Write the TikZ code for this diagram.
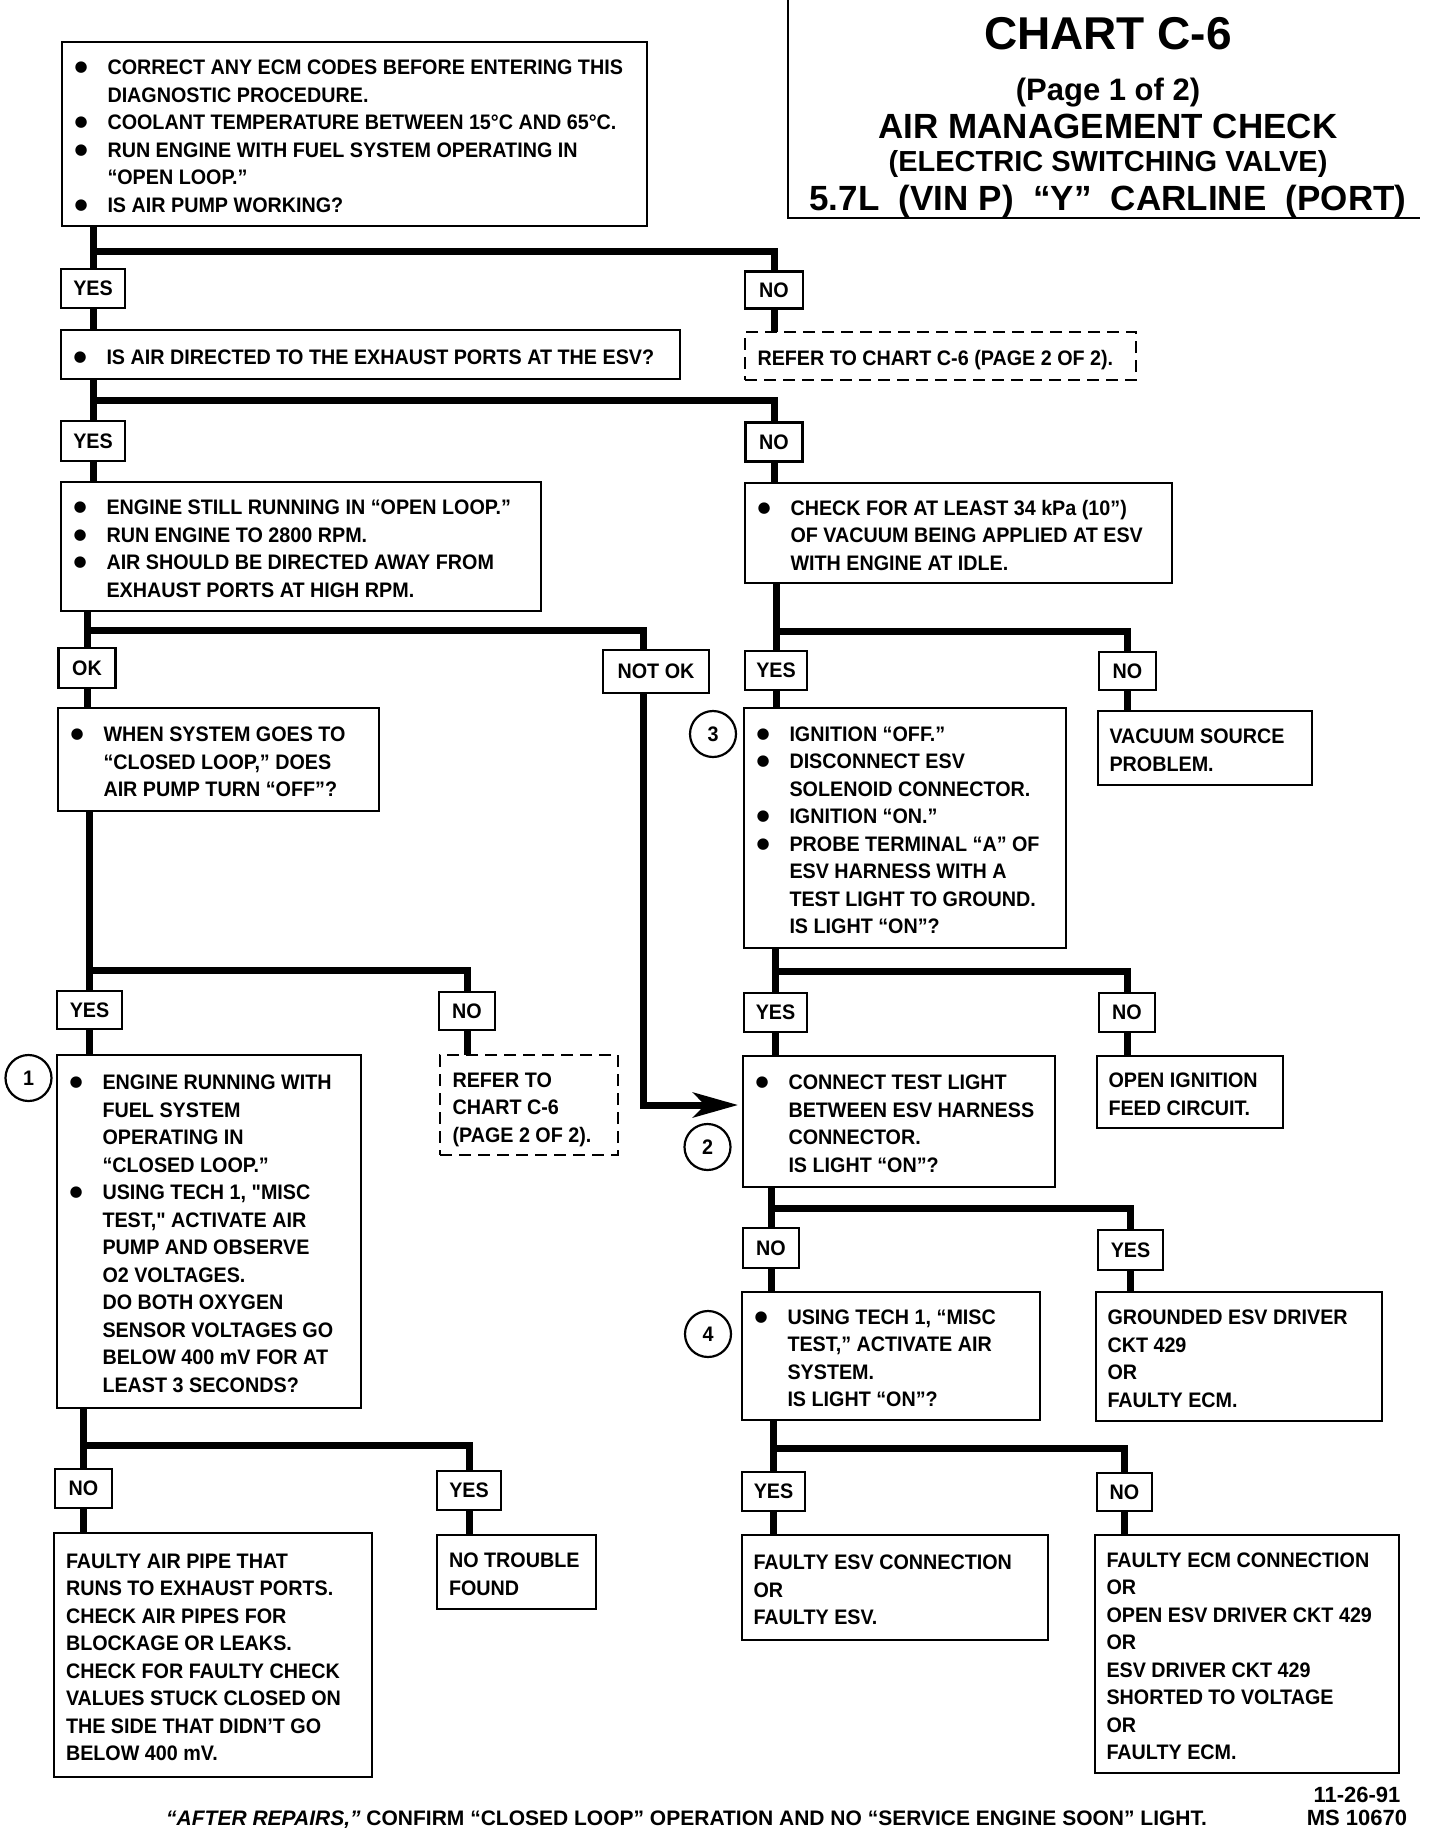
\documentclass[tikz,border=0pt]{standalone}
\usepackage{fontspec}
\usetikzlibrary{arrows.meta}
\newfontfamily\chartfont{Liberation Sans}[FakeStretch=0.94]
\newfontfamily\titlefont{Liberation Sans}
\newfontfamily\symfont{DejaVu Sans}
\newcommand\boxfont{\chartfont\bfseries\fontsize{21}{27.5}\selectfont}
\newcommand\bul{\makebox[33pt][l]{\raisebox{3pt}{\symfont\fontsize{15}{15}\selectfont ●}}}
\newcommand\ind{\hspace*{33pt}}
\newcommand\bt[3]{\raisebox{-4pt}[\height][\depth]{\makebox[#1pt][l]{\hspace*{#2pt}\begin{tabular}{@{}l@{}}#3\end{tabular}}}}
\newcommand\branch[6]{%
  \draw[conn] (#2.north |- #1.south) -- (#2.north);
  \draw[conn] (#2.north |- #4) -| (#3.north);
  \draw[conn] (#2.south) -- (#2.south |- #5.north);
  \draw[conn] (#3.south) -- (#3.south |- #6.north);}
\tikzset{
  bx/.style={draw, line width=2.6pt, anchor=north west, inner sep=0pt, outer sep=0pt, font=\boxfont},
  dbx/.style={bx, line width=2.4pt, dash pattern=on 12pt off 7pt},
  lbl/.style={draw, line width=2.5pt, inner sep=0pt, outer sep=0pt, minimum height=39pt, font=\boxfont},
  conn/.style={line width=7pt, line join=miter},
  num/.style={draw, circle, line width=2.2pt, minimum size=46pt, inner sep=0pt, font=\boxfont},
  ttl/.style={anchor=base, inner sep=0pt, font=\titlefont\bfseries}
}
\begin{document}
\begin{tikzpicture}[x=1pt,y=-1pt]
\useasboundingbox (0,0) rectangle (1440,1828);
\fill[white] (0,0) rectangle (1440,1828);

% title
\draw[line width=2.6pt] (788,0) -- (788,218) -- (1420,218);
\node[ttl, font=\titlefont\bfseries\fontsize{46}{50}\selectfont] (t1) at (1108,50) {CHART C-6};
\node[ttl, font=\titlefont\bfseries\fontsize{31}{34}\selectfont] (t2) at (1108,100) {(Page 1 of 2)};
\node[ttl, font=\titlefont\bfseries\fontsize{35}{38}\selectfont] (t3) at (1108,138) {AIR MANAGEMENT CHECK};
\node[ttl, font=\titlefont\bfseries\fontsize{29}{32}\selectfont] (t4) at (1108,171) {(ELECTRIC SWITCHING VALVE)};
\node[ttl, font=\titlefont\bfseries\fontsize{35}{38}\selectfont] (t5) at (1108,210) {5.7L\ \ (VIN P)\ \ “Y”\ \ CARLINE\ \ (PORT)};

% left column boxes
\node[bx, minimum height=184pt] (b1) at (62,42) {\bt{585}{12.5}{%
\bul CORRECT ANY ECM CODES BEFORE ENTERING THIS\\
\ind DIAGNOSTIC PROCEDURE.\\
\bul COOLANT TEMPERATURE BETWEEN 15°C AND 65°C.\\
\bul RUN ENGINE WITH FUEL SYSTEM OPERATING IN\\
\ind “OPEN LOOP.”\\
\bul IS AIR PUMP WORKING?}};

\node[bx, minimum height=49pt] (b2) at (61,330) {\bt{619}{12.5}{%
\bul IS AIR DIRECTED TO THE EXHAUST PORTS AT THE ESV?}};

\node[dbx, minimum height=48pt] (d1) at (745,332) {\bt{391}{12.5}{%
REFER TO CHART C-6 (PAGE 2 OF 2).}};

\node[bx, minimum height=129pt] (b3) at (61,482) {\bt{480}{12.5}{%
\bul ENGINE STILL RUNNING IN “OPEN LOOP.”\\
\bul RUN ENGINE TO 2800 RPM.\\
\bul AIR SHOULD BE DIRECTED AWAY FROM\\
\ind EXHAUST PORTS AT HIGH RPM.}};

\node[bx, minimum height=103pt] (b4) at (58,708) {\bt{321}{12.5}{%
\bul WHEN SYSTEM GOES TO\\
\ind “CLOSED LOOP,” DOES\\
\ind AIR PUMP TURN “OFF”?}};

\node[bx, minimum height=353pt] (b5) at (57,1055) {\bt{304}{12.5}{%
\bul ENGINE RUNNING WITH\\
\ind FUEL SYSTEM\\
\ind OPERATING IN\\
\ind “CLOSED LOOP.”\\
\bul USING TECH 1, "MISC\\
\ind TEST," ACTIVATE AIR\\
\ind PUMP AND OBSERVE\\
\ind O2 VOLTAGES.\\
\ind DO BOTH OXYGEN\\
\ind SENSOR VOLTAGES GO\\
\ind BELOW 400 mV FOR AT\\
\ind LEAST 3 SECONDS?}};

\node[dbx, minimum height=100pt] (d2) at (440,1055) {\bt{178}{12.5}{%
REFER TO\\
CHART C-6\\
(PAGE 2 OF 2).}};

\node[bx, minimum height=244pt] (b6) at (54,1533) {\bt{318}{12}{%
FAULTY AIR PIPE THAT\\
RUNS TO EXHAUST PORTS.\\
CHECK AIR PIPES FOR\\
BLOCKAGE OR LEAKS.\\
CHECK FOR FAULTY CHECK\\
VALUES STUCK CLOSED ON\\
THE SIDE THAT DIDN’T GO\\
BELOW 400 mV.}};

\node[bx, minimum height=74pt] (b7) at (437,1535) {\bt{159}{12}{%
NO TROUBLE\\
FOUND}};

% right column boxes
\node[bx, minimum height=100pt] (r1) at (745,483) {\bt{427}{12.5}{%
\bul CHECK FOR AT LEAST 34 kPa (10”)\\
\ind OF VACUUM BEING APPLIED AT ESV\\
\ind WITH ENGINE AT IDLE.}};

\node[bx, minimum height=74pt] (vac) at (1098,711) {\bt{214}{11.5}{%
VACUUM SOURCE\\
PROBLEM.}};

\node[bx, minimum height=240pt] (r2) at (744,708) {\bt{322}{12.5}{%
\bul IGNITION “OFF.”\\
\bul DISCONNECT ESV\\
\ind SOLENOID CONNECTOR.\\
\bul IGNITION “ON.”\\
\bul PROBE TERMINAL “A” OF\\
\ind ESV HARNESS WITH A\\
\ind TEST LIGHT TO GROUND.\\
\ind IS LIGHT “ON”?}};

\node[bx, minimum height=72pt] (ign) at (1097,1056) {\bt{186}{11.5}{%
OPEN IGNITION\\
FEED CIRCUIT.}};

\node[bx, minimum height=131pt] (r3) at (743,1056) {\bt{312}{12.5}{%
\bul CONNECT TEST LIGHT\\
\ind BETWEEN ESV HARNESS\\
\ind CONNECTOR.\\
\ind IS LIGHT “ON”?}};

\node[bx, minimum height=129pt] (gnd) at (1096,1292) {\bt{286}{11.5}{%
GROUNDED ESV DRIVER\\
CKT 429\\
OR\\
FAULTY ECM.}};

\node[bx, minimum height=128pt] (r4) at (742,1292) {\bt{298}{12.5}{%
\bul USING TECH 1, “MISC\\
\ind TEST,” ACTIVATE AIR\\
\ind SYSTEM.\\
\ind IS LIGHT “ON”?}};

\node[bx, minimum height=105pt] (fesv) at (742,1535) {\bt{306}{11.5}{%
FAULTY ESV CONNECTION\\
OR\\
FAULTY ESV.}};

\node[bx, minimum height=238pt] (fecm) at (1095,1535) {\bt{304}{11.5}{%
FAULTY ECM CONNECTION\\
OR\\
OPEN ESV DRIVER CKT 429\\
OR\\
ESV DRIVER CKT 429\\
SHORTED TO VOLTAGE\\
OR\\
FAULTY ECM.}};

% labels
\node[lbl, minimum width=64pt] (yes1) at (93,288.5) {YES};
\node[lbl, minimum width=58pt, minimum height=37pt] (no1) at (774,290) {NO};
\node[lbl, minimum width=64pt, minimum height=40pt] (yes2) at (93,441) {YES};
\node[lbl, minimum width=57pt] (no2) at (774,442) {NO};
\node[lbl, minimum width=57pt, minimum height=40pt] (ok) at (87,668) {OK};
\node[lbl, minimum width=106pt, minimum height=43pt] (notok) at (656,671.5) {NOT OK};
\node[lbl, minimum width=62pt] (yesR1) at (776,670.5) {YES};
\node[lbl, minimum width=57pt, minimum height=38pt] (noR1) at (1127.5,671) {NO};
\node[lbl, minimum width=65pt, minimum height=38pt] (yes3) at (89.5,1010) {YES};
\node[lbl, minimum width=56pt, minimum height=38pt] (no3) at (467,1011) {NO};
\node[lbl, minimum width=63pt] (yesR2) at (775.5,1012.5) {YES};
\node[lbl, minimum width=56pt] (noR2) at (1127,1012.5) {NO};
\node[lbl, minimum width=56pt, minimum height=40pt] (noR3) at (771,1248) {NO};
\node[lbl, minimum width=65pt, minimum height=40pt] (yesR3) at (1130.5,1250) {YES};
\node[lbl, minimum width=57pt] (no4) at (83.5,1488.5) {NO};
\node[lbl, minimum width=64pt] (yes4) at (469,1490.5) {YES};
\node[lbl, minimum width=63pt] (yesR4) at (773.5,1491.5) {YES};
\node[lbl, minimum width=55pt, minimum height=38pt] (noR4) at (1124.5,1492) {NO};

% step numbers
\node[num] (n1) at (28.5,1078) {1};
\node[num] (n2) at (707.5,1147) {2};
\node[num] (n3) at (713,734) {3};
\node[num] (n4) at (708,1334) {4};

% junction heights
\coordinate (j1) at (0,251);
\coordinate (j2) at (0,400.5);
\coordinate (j3) at (0,630);
\coordinate (j4) at (0,970);
\coordinate (j5) at (0,1445);
\coordinate (jR1) at (0,631.5);
\coordinate (jR2) at (0,971.5);
\coordinate (jR3) at (0,1208.5);
\coordinate (jR4) at (0,1448.5);
\coordinate (kx) at (643,0);
\coordinate (ka) at (0,1105);

% connectors
\branch{b1}{yes1}{no1}{j1}{b2}{d1}
\branch{b2}{yes2}{no2}{j2}{b3}{r1}
\branch{b4}{yes3}{no3}{j4}{b5}{d2}
\branch{b5}{no4}{yes4}{j5}{b6}{b7}
\branch{r1}{yesR1}{noR1}{jR1}{r2}{vac}
\branch{r2}{yesR2}{noR2}{jR2}{r3}{ign}
\branch{r3}{noR3}{yesR3}{jR3}{r4}{gnd}
\branch{r4}{yesR4}{noR4}{jR4}{fesv}{fecm}

\draw[conn] (ok.north |- b3.south) -- (ok.north);
\draw[conn] (ok.north |- j3) -- (kx |- j3) -- (kx |- notok.north);
\draw[conn] (ok.south) -- (ok.south |- b4.north);
\draw[conn, -{Stealth[length=45pt, width=25pt, inset=12pt]}, shorten >=5pt]
  (kx |- notok.south) -- (kx |- ka) -- (ka -| r3.west);

% footer
\node[anchor=base west, inner sep=0pt, font=\titlefont\bfseries\fontsize{21}{24}\selectfont] (foot) at (166,1825)
  {{\itshape “AFTER REPAIRS,”} CONFIRM “CLOSED LOOP” OPERATION AND NO “SERVICE ENGINE SOON” LIGHT.};
\node[anchor=base, inner sep=0pt, font=\titlefont\bfseries\fontsize{22}{24}\selectfont] (date) at (1357,1802) {11-26-91};
\node[anchor=base, inner sep=0pt, font=\titlefont\bfseries\fontsize{22}{24}\selectfont] (ms) at (1357,1825) {MS 10670};
\end{tikzpicture}
\end{document}
